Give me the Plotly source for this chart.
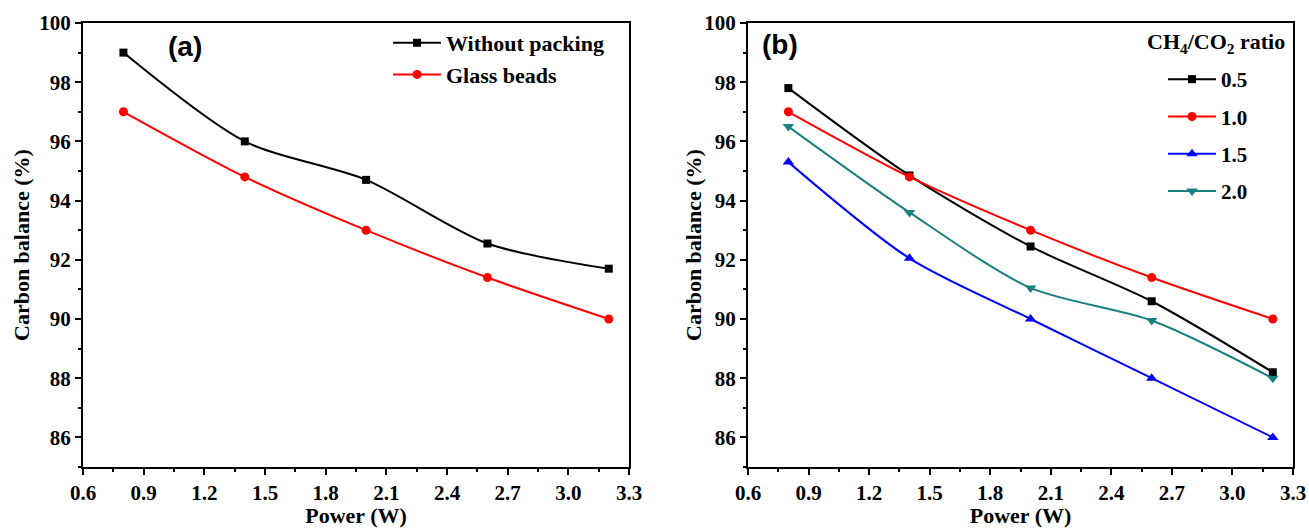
import plotly.graph_objects as go

power = [0.8, 1.4, 2.0, 2.6, 3.2]

# Panel (a)
a_without_packing = [99.0, 96.0, 94.7, 92.55, 91.7]
a_glass_beads = [97.0, 94.8, 93.0, 91.4, 90.0]

# Panel (b): CH4/CO2 ratio
b_ratio_05 = [97.8, 94.85, 92.45, 90.6, 88.2]
b_ratio_10 = [97.0, 94.8, 93.0, 91.4, 90.0]
b_ratio_15 = [95.3, 92.05, 90.0, 88.0, 86.0]
b_ratio_20 = [96.5, 93.6, 91.05, 89.95, 88.0]

x_ticks = [0.6, 0.9, 1.2, 1.5, 1.8, 2.1, 2.4, 2.7, 3.0, 3.3]
y_ticks = [86, 88, 90, 92, 94, 96, 98, 100]

W, H = 1309, 528
SERIF = "Liberation Serif"

fig = go.Figure()

def add(xaxis, yaxis, y, name, color, symbol, size, legend, group):
    fig.add_trace(go.Scatter(
        x=power, y=y, name=name, mode="lines+markers",
        line=dict(color=color, width=2, shape="spline", smoothing=0.8),
        marker=dict(color=color, symbol=symbol, size=size),
        xaxis=xaxis, yaxis=yaxis, legend=legend, legendgroup=group,
    ))

add("x", "y", a_without_packing, "Without packing", "#000000", "square", 8, "legend", "a1")
add("x", "y", a_glass_beads, "Glass beads", "#ff0000", "circle", 9, "legend", "a2")
add("x2", "y2", b_ratio_05, "0.5", "#000000", "square", 8, "legend2", "b1")
add("x2", "y2", b_ratio_10, "1.0", "#ff0000", "circle", 9, "legend2", "b2")
add("x2", "y2", b_ratio_15, "1.5", "#0000ff", "triangle-up", 10, "legend2", "b3")
add("x2", "y2", b_ratio_20, "2.0", "#1a8080", "triangle-down", 10, "legend2", "b4")

tickfont = dict(family=SERIF, size=21, color="black", weight="bold")
titlefont = dict(family=SERIF, size=22, color="black", weight="bold")
legfont = dict(family=SERIF, size=21, color="black", weight="bold")
legfont_a = dict(family=SERIF, size=22, color="black", weight="bold")

xcommon = dict(
    range=[0.6, 3.3], tickvals=x_ticks, ticktext=[f"{v:.1f}" for v in x_ticks],
    ticks="outside", ticklen=6, tickwidth=2, tickcolor="black",
    showline=True, linecolor="black", linewidth=2, mirror=True,
    showgrid=False, zeroline=False, tickfont=tickfont, automargin=False,
    minor=dict(dtick=0.15, tick0=0.6, ticks="outside", ticklen=3, tickwidth=2, tickcolor="black"),
    title=dict(text="Power (W)", font=titlefont),
)
ycommon = dict(
    range=[85, 100], tickvals=y_ticks,
    ticks="outside", ticklen=6, tickwidth=2, tickcolor="black",
    showline=True, linecolor="black", linewidth=2, mirror=True,
    showgrid=False, zeroline=False, tickfont=tickfont, automargin=False,
    minor=dict(dtick=1, tick0=85, ticks="outside", ticklen=3, tickwidth=2, tickcolor="black"),
)

y0, y1 = 1 - 467 / H, 1 - 23 / H
ytitle = "Carbon balance (%)"
fig.update_layout(
    width=W, height=H,
    margin=dict(l=0, r=0, t=0, b=0, autoexpand=False),
    paper_bgcolor="white", plot_bgcolor="white",
    xaxis=dict(domain=[83 / W, 629 / W], anchor="y", **xcommon),
    yaxis=dict(domain=[y0, y1], anchor="x", **ycommon),
    xaxis2=dict(domain=[748 / W, 1293 / W], anchor="y2", **xcommon),
    yaxis2=dict(domain=[y0, y1], anchor="x2", **ycommon),
    legend=dict(
        x=388 / W, y=1 - 22 / H, xanchor="left", yanchor="top",
        bgcolor="rgba(0,0,0,0)", borderwidth=0, font=legfont_a,
        traceorder="grouped", tracegroupgap=0, itemwidth=48,
    ),
    legend2=dict(
        x=1163 / W, y=1 - 59 / H, xanchor="left", yanchor="top",
        bgcolor="rgba(0,0,0,0)", borderwidth=0, font=legfont,
        traceorder="grouped", tracegroupgap=7, itemwidth=48,
    ),
    showlegend=True,
    annotations=[
        dict(text="(a)", x=185 / W, y=1 - 46 / H, xref="paper", yref="paper",
             xanchor="center", yanchor="middle", showarrow=False,
             font=dict(family="Liberation Sans", size=28, color="black", weight="bold")),
        dict(text="(b)", x=780 / W, y=1 - 45 / H, xref="paper", yref="paper",
             xanchor="center", yanchor="middle", showarrow=False,
             font=dict(family="Liberation Sans", size=28, color="black", weight="bold")),
        dict(text="CH<sub>4</sub>/CO<sub>2</sub> ratio", x=1287 / W, y=1 - 43 / H,
             xref="paper", yref="paper", xanchor="right", yanchor="middle",
             showarrow=False, font=dict(family=SERIF, size=22, color="black", weight="bold")),
        dict(text=ytitle, x=21 / W, y=1 - 245 / H, xref="paper", yref="paper",
             xanchor="center", yanchor="middle", textangle=-90, showarrow=False,
             font=titlefont),
        dict(text=ytitle, x=693 / W, y=1 - 245 / H, xref="paper", yref="paper",
             xanchor="center", yanchor="middle", textangle=-90, showarrow=False,
             font=titlefont),
    ],
)

fig.write_html("out.html")
